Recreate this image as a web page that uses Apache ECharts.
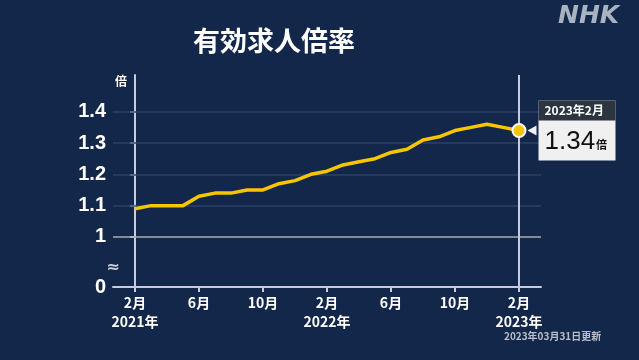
<!DOCTYPE html>
<html><head><meta charset="utf-8">
<script src="https://cdn.jsdelivr.net/npm/echarts@6/dist/echarts.min.js"></script>
<style>html,body{margin:0;padding:0;background:#12274a;}#c{width:639px;height:360px;}</style>
</head><body><div id="c"></div>
<script>
const months = [0,1,2,3,4,5,6,7,8,9,10,11,12,13,14,15,16,17,18,19,20,21,22,23,24];
const ratio = [1.09,1.10,1.10,1.10,1.13,1.14,1.14,1.15,1.15,1.17,1.18,1.20,1.21,1.23,1.24,1.25,1.27,1.28,1.31,1.32,1.34,1.35,1.36,1.35,1.34];
const xTickValues = [0,4,8,12,16,20,24];
const xTickLabels = ['2月\n2021年','6月','10月','2月\n2022年','6月','10月','2月\n2023年'];
const yTickValues = [0.84,1,1.1,1.2,1.3,1.4];
const yTickLabels = ['0','1','1.1','1.2','1.3','1.4'];
const gridValues = [1.1,1.2,1.3,1.4];
const lastLabel = '2023年2月';
const title = '有効求人倍率';
const updated = '2023年03月31日更新';

const FONT = '"Noto Sans CJK JP", "Liberation Sans", sans-serif';
const chart = echarts.init(document.getElementById('c'));
const lastIdx = ratio.length - 1;

chart.setOption({
  backgroundColor: '#12274a',
  animation: false,
  title: {
    text: title, left: 269, top: 22, textAlign: 'center',
    textStyle: {color: '#ffffff', fontSize: 27, fontWeight: 'bold', fontFamily: FONT}
  },
  grid: {left: 113, right: 98, top: 75, bottom: 73},
  xAxis: {
    type: 'value', min: -1.375, max: 25.375,
    splitLine: {show: false},
    axisLine: {lineStyle: {color: '#c9cdd3', width: 2}},
    axisTick: {show: true, customValues: xTickValues, length: 5, lineStyle: {color: '#c9cdd3', width: 2}},
    axisLabel: {
      customValues: xTickValues,
      formatter: v => xTickLabels[xTickValues.indexOf(v)],
      color: '#ffffff', fontSize: 14, fontWeight: 'bold', fontFamily: FONT, lineHeight: 19, margin: 6
    }
  },
  yAxis: {
    type: 'value', min: 0.84, max: 1.5174,
    name: '倍', nameLocation: 'end', nameGap: -12,
    nameTextStyle: {color: '#ffffff', fontSize: 12, fontWeight: 'bold', fontFamily: FONT, align: 'right', padding: [0, 8, 0, 0]},
    splitLine: {show: false},
    axisLine: {show: true, lineStyle: {color: '#c9cdd3', width: 2}},
    axisTick: {show: true, customValues: yTickValues, length: 5, lineStyle: {color: '#c9cdd3', width: 2}},
    axisLabel: {
      customValues: yTickValues,
      formatter: v => yTickLabels[yTickValues.findIndex(t => Math.abs(t - v) < 1e-6)],
      color: '#ffffff', fontSize: 20, fontWeight: 'bold', fontFamily: '"Liberation Sans", sans-serif', margin: 7
    }
  },
  series: [
    {
      type: 'line',
      data: months.map((m, i) => [m, ratio[i]]),
      symbol: 'none',
      lineStyle: {color: '#f7c600', width: 3.5},
      z: 5,
      markLine: {
        silent: true, symbol: 'none', label: {show: false},
        data: [
          ...gridValues.map(v => ({yAxis: v, lineStyle: {color: '#2c4366', width: 1.5, type: 'solid'}})),
          {yAxis: 1, lineStyle: {color: '#a9aeb6', width: 1.5, type: 'solid'}},
          {xAxis: months[lastIdx], lineStyle: {color: '#c9cdd3', width: 2, type: 'solid'}}
        ]
      }
    },
    {
      type: 'scatter',
      data: [[months[lastIdx], ratio[lastIdx]]],
      symbol: 'circle', symbolSize: 13,
      itemStyle: {color: '#f7c600', borderColor: '#ffffff', borderWidth: 2, opacity: 1},
      z: 10,
      label: {
        show: true, position: 'right', distance: 12,
        backgroundColor: '#f0f0f0', padding: 0,
        formatter: () => '{h|' + lastLabel + '}\n{v|' + ratio[lastIdx].toFixed(2) + '}{u|倍}',
        rich: {
          h: {width: 71, height: 20, padding: [0, 0, 0, 6], backgroundColor: '#2c3540', color: '#ffffff', fontSize: 12, fontWeight: 'bold', fontFamily: FONT},
          v: {height: 32, padding: [2, 0, 0, 6], color: '#111111', fontSize: 26, fontFamily: '"Liberation Sans", sans-serif'},
          u: {height: 32, padding: [8, 0, 0, 1], color: '#111111', fontSize: 11, fontWeight: 'bold', fontFamily: FONT}
        }
      },
      markPoint: {
        silent: true,
        data: [{coord: [months[lastIdx], ratio[lastIdx]], symbol: 'triangle', symbolSize: [10, 9], symbolRotate: 90, symbolOffset: [13, 0], itemStyle: {color: '#f0f0f0', opacity: 1}, label: {show: false}}]
      }
    }
  ],
  graphic: [
    {type: 'text', left: 558, top: 4, style: {text: 'NHK', fill: '#a8b2c0', font: 'italic bold 25px "DejaVu Sans", sans-serif'}},
    {type: 'text', left: 504, top: 331, style: {text: updated, fill: '#b9bfc8', font: 'bold 10px "Noto Sans CJK JP", sans-serif'}},
    {type: 'text', x: 113, y: 268, style: {text: '≈', fill: '#d0d4da', font: 'bold 16px "DejaVu Sans", sans-serif', align: 'center', verticalAlign: 'middle', backgroundColor: '#12274a'}}
  ]
});
</script>
</body></html>
